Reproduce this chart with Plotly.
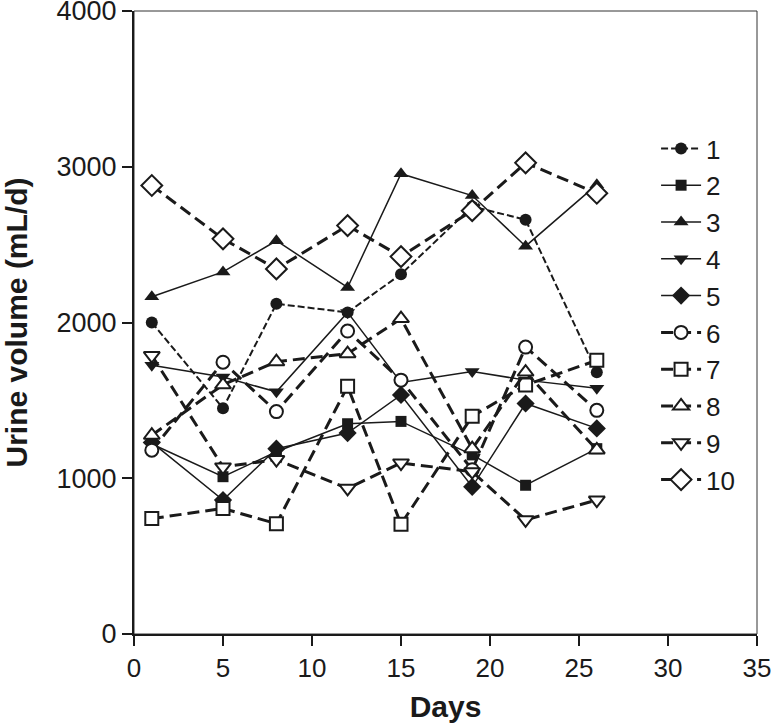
import plotly.graph_objects as go

days = [1, 5, 8, 12, 15, 19, 22, 26]
series_names = ["1", "2", "3", "4", "5", "6", "7", "8", "9", "10"]
s1 = [2000, 1450, 2120, 2065, 2310, 2745, 2660, 1680]
s2 = [1220, 1010, 1170, 1350, 1365, 1150, 955, 1190]
s3 = [2165, 2325, 2525, 2225, 2955, 2815, 2490, 2885]
s4 = [1725, 1650, 1555, 2065, 1615, 1685, 1630, 1578]
s5 = [1230, 860, 1190, 1290, 1535, 945, 1480, 1320]
s6 = [1180, 1745, 1428, 1945, 1630, 1055, 1842, 1436]
s7 = [741, 806, 708, 1590, 705, 1398, 1598, 1757]
s8 = [1276, 1600, 1748, 1800, 2025, 1190, 1682, 1182]
s9 = [1788, 1073, 1120, 935, 1098, 1042, 733, 860]
s10 = [2880, 2537, 2344, 2622, 2423, 2718, 3025, 2830]
values = [s1, s2, s3, s4, s5, s6, s7, s8, s9, s10]

x_ticks = [0, 5, 10, 15, 20, 25, 30, 35]
y_ticks = [0, 1000, 2000, 3000, 4000]

INK = "#1a1a1a"
styles = [
    dict(symbol="circle", size=12, fill=True, width=2, dash="7px,3px"),
    dict(symbol="square", size=11, fill=True, width=1.5, dash="solid"),
    dict(symbol="triangle-up", size=13, fill=True, width=1.5, dash="solid"),
    dict(symbol="triangle-down", size=13, fill=True, width=1.5, dash="solid"),
    dict(symbol="diamond", size=14, fill=True, width=1.5, dash="solid"),
    dict(symbol="circle", size=13, fill=False, width=3, dash="12px,6px"),
    dict(symbol="square", size=13, fill=False, width=3, dash="12px,6px"),
    dict(symbol="triangle-up", size=14, fill=False, width=3, dash="12px,6px"),
    dict(symbol="triangle-down", size=14, fill=False, width=3, dash="12px,6px"),
    dict(symbol="diamond", size=16, fill=False, width=3, dash="12px,6px"),
]

fig = go.Figure()
for name, vals, st in zip(series_names, values, styles):
    fig.add_trace(go.Scatter(
        x=days, y=vals, name=name, mode="lines+markers",
        line=dict(color=INK, width=st["width"], dash=st["dash"]),
        marker=dict(symbol=st["symbol"], size=st["size"],
                    color=INK if st["fill"] else "white",
                    line=dict(color=INK, width=0 if st["fill"] else 2)),
    ))

font_family = "Liberation Sans, Arial, Helvetica, sans-serif"
fig.update_layout(
    width=773, height=728,
    margin=dict(l=134, r=16, t=11, b=94, autoexpand=False),
    paper_bgcolor="white", plot_bgcolor="white",
    font=dict(family=font_family, color=INK, size=24),
    showlegend=True,
    legend=dict(x=0.838, y=0.817, xanchor="left", yanchor="top",
                font=dict(size=26, family=font_family, color=INK),
                bgcolor="rgba(0,0,0,0)", itemwidth=40),
    shapes=[dict(type="rect", xref="x domain", yref="y domain",
                 x0=0, x1=1, y0=0, y1=1, line=dict(color="#333", width=1),
                 layer="below")],
)
fig.update_xaxes(
    range=[0, 35], tickvals=x_ticks, ticktext=[str(t) for t in x_ticks],
    automargin=False, ticklabeloverflow="allow",
    showgrid=False, zeroline=False, showline=True, linecolor=INK, linewidth=2,
    ticks="outside", ticklen=10, tickwidth=2, tickcolor=INK,
    tickfont=dict(size=26, family=font_family, color=INK),
    title=dict(text="<b>Days</b>", font=dict(size=30, family=font_family, color=INK), standoff=14),
)
fig.update_yaxes(
    range=[0, 4000], tickvals=y_ticks, ticktext=[str(t) for t in y_ticks],
    automargin=False, ticklabeloverflow="allow",
    showgrid=False, zeroline=False, showline=True, linecolor=INK, linewidth=2,
    ticks="outside", ticklen=10, tickwidth=2, tickcolor=INK,
    tickfont=dict(size=27, family=font_family, color=INK),
    title=dict(text="<b>Urine volume (mL/d)</b>", font=dict(size=30, family=font_family, color=INK), standoff=20),
)

fig.write_html(
    "out.html",
    config={"displayModeBar": False},
    post_script="document.body.style.margin='0';document.body.style.overflow='hidden';",
)
